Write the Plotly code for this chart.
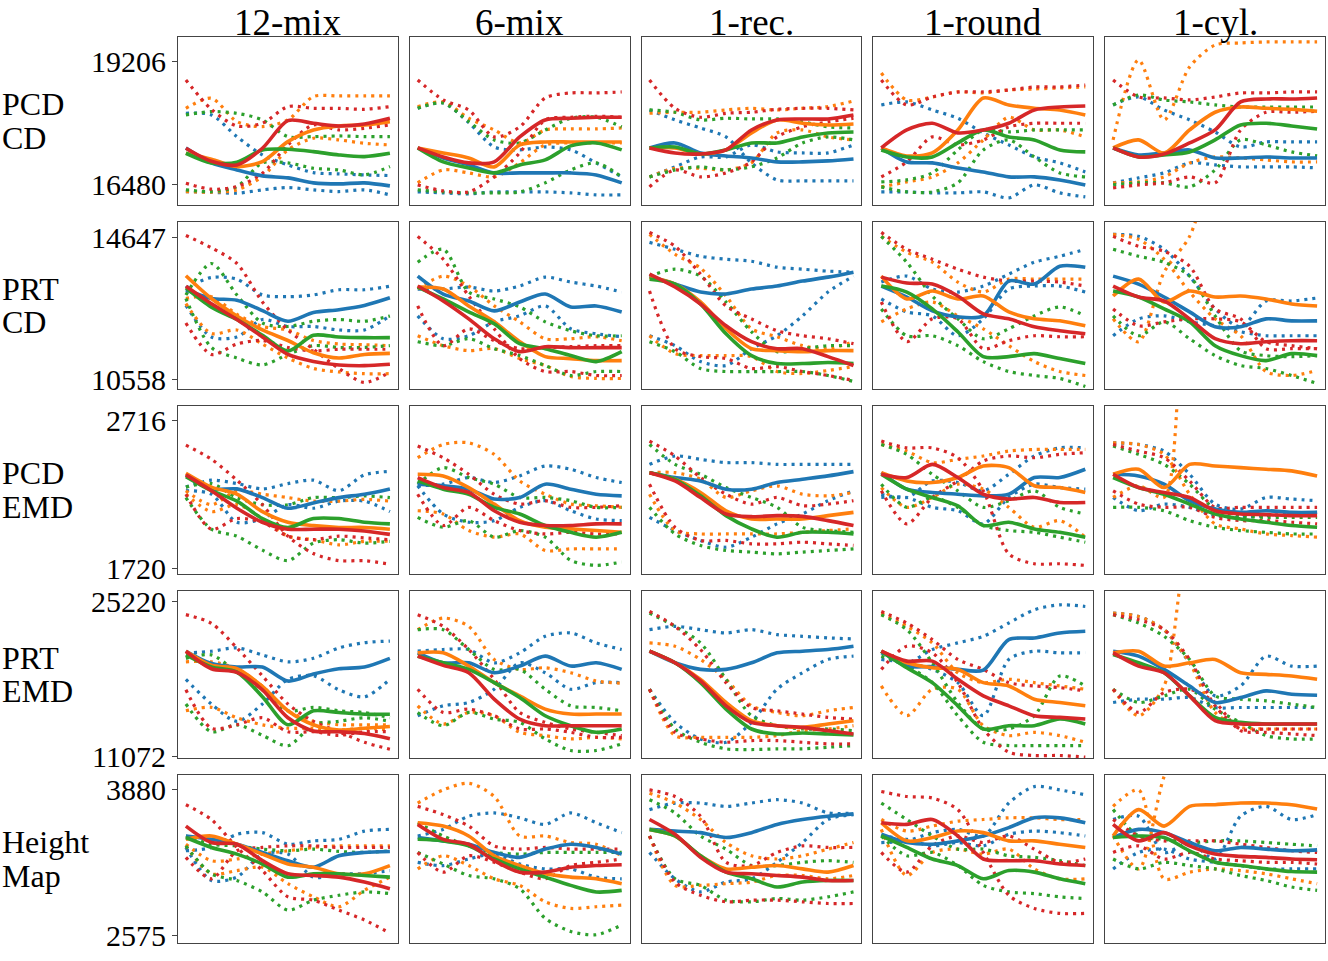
import plotly.graph_objects as go

# ---------------- data ----------------
steps = [0, 1, 2, 3, 4, 5, 6, 7, 8]
datasets = ["12-mix", "6-mix", "1-rec.", "1-round", "1-cyl."]
metrics = [("PCD", "CD"), ("PRT", "CD"), ("PCD", "EMD"), ("PRT", "EMD"), ("Height", "Map")]
y_ticks = [[16480, 19206], [10558, 14647], [1720, 2716], [11072, 25220], [2575, 3880]]
y_limits = [[16037, 19760], [10272, 15104], [1680, 2817], [10891, 26218], [2504, 4013]]
series_colors = ["#1f77b4", "#ff7f0e", "#2ca02c", "#d62728"]  # blue, orange, green, red

# solid lines: [blue, orange, green, red]; dotted: [b1, b2, o1, o2, g1, g2, r1, r2]
r1c1_solid = [
    [17300, 16968, 16813, 16680, 16636, 16525, 16502, 16525, 16458],
    [17182, 17050, 16887, 16997, 17440, 17699, 17788, 17810, 17884],
    [17182, 16968, 16983, 17256, 17271, 17219, 17145, 17108, 17182],
    [17293, 17005, 16924, 17293, 17906, 17847, 17788, 17832, 17958]]
r1c1_dotted = [
    [18069, 18032, 17551, 17145, 16924, 16753, 16724, 16702, 16687],
    [16333, 16318, 16296, 16370, 16421, 16370, 16333, 16370, 16259],
    [18179, 18401, 17884, 17773, 17921, 18438, 18453, 18453, 18453],
    [16333, 16318, 16370, 16665, 17256, 17515, 17478, 17404, 17367],
    [18032, 18105, 18069, 17921, 17551, 17551, 17566, 17551, 17551],
    [16370, 16333, 16443, 16968, 16968, 16850, 16813, 16702, 16887],
    [18807, 18157, 17788, 17847, 18216, 18179, 18179, 18157, 18216],
    [16517, 16385, 16443, 16739, 17367, 17810, 17699, 17736, 17810]]

r1c2_solid = [
    [17300, 17078, 16924, 16746, 16746, 16746, 16746, 16702, 16525],
    [17300, 17189, 17078, 16880, 17367, 17433, 17433, 17433, 17433],
    [17300, 16990, 16857, 16746, 16924, 17034, 17345, 17411, 17256],
    [17300, 17100, 16968, 16990, 17544, 17921, 17958, 17980, 17980]]
r1c2_dotted = [
    [18179, 18297, 17862, 17322, 17256, 17322, 17256, 16968, 16658],
    [16325, 16303, 16281, 16325, 16325, 16325, 16303, 16259, 16259],
    [18216, 18320, 17958, 17699, 17411, 17699, 17721, 17721, 17743],
    [16525, 16813, 16746, 16658, 16968, 17367, 17411, 17411, 17411],
    [18179, 18297, 17884, 17478, 17411, 17699, 17958, 17980, 17766],
    [16370, 16325, 16303, 16303, 16325, 16525, 16813, 16968, 16658],
    [18807, 18364, 18142, 17544, 17766, 18408, 18519, 18519, 18541],
    [16480, 16347, 16325, 16658, 17189, 17921, 17980, 18003, 17980]]

r1c3_solid = [
    [17300, 17411, 17189, 17123, 17078, 16990, 16990, 17012, 17056],
    [17300, 17300, 17167, 17256, 17633, 17921, 17847, 17810, 17832],
    [17300, 17322, 17167, 17256, 17411, 17411, 17544, 17633, 17655],
    [17300, 17189, 17167, 17256, 17699, 17921, 17943, 17943, 18032]]
r1c3_dotted = [
    [18142, 17921, 17743, 17544, 16968, 16591, 16569, 16569, 16569],
    [16658, 16880, 17100, 17100, 17367, 17212, 17189, 17189, 17367],
    [18069, 18091, 18091, 18142, 18179, 18142, 18179, 18216, 18342],
    [16658, 16850, 16850, 16813, 16968, 17633, 17699, 17544, 17478],
    [18142, 18091, 17921, 17958, 17943, 17943, 17877, 17766, 17743],
    [16658, 16813, 16880, 16813, 16880, 17078, 17411, 17544, 17478],
    [18807, 18179, 17980, 18069, 18091, 18157, 18179, 18179, 18142],
    [16436, 16813, 16658, 16746, 16990, 17544, 17766, 17877, 17958]]

r1c4_solid = [
    [17300, 16990, 16968, 16857, 16768, 16658, 16658, 16591, 16480],
    [17300, 17123, 17189, 17699, 18408, 18253, 18179, 18142, 18032],
    [17256, 17100, 17100, 17411, 17699, 17544, 17478, 17256, 17212],
    [17300, 17699, 17847, 17633, 17699, 17847, 18142, 18208, 18230]]
r1c4_dotted = [
    [18253, 18320, 18142, 17958, 17633, 17367, 17100, 16968, 16768],
    [16325, 16325, 16303, 16303, 16325, 16192, 16480, 16303, 16214],
    [18962, 18364, 18430, 18541, 18519, 18586, 18608, 18630, 18652],
    [16436, 16547, 16658, 16968, 17478, 17980, 17699, 17699, 17544],
    [16547, 16591, 16746, 17256, 17699, 17655, 17699, 17699, 17699],
    [16436, 16325, 16325, 16525, 17256, 17478, 17100, 16746, 16658],
    [18807, 18253, 18430, 18541, 18541, 18586, 18652, 18652, 18696],
    [16658, 16990, 17544, 17367, 17478, 17766, 17847, 17847, 17847]]

r1c5_solid = [
    [17300, 17145, 17189, 17256, 17078, 17078, 17100, 17078, 17078],
    [17300, 17478, 17189, 17699, 18091, 18208, 18179, 18157, 18113],
    [17300, 17100, 17145, 17212, 17478, 17810, 17847, 17788, 17721],
    [17300, 17100, 17167, 17411, 17699, 18320, 18386, 18386, 18408]]
r1c5_dotted = [
    [18253, 18430, 18142, 17921, 17655, 17322, 17433, 17433, 17433],
    [16525, 16636, 16746, 16968, 16924, 16880, 16880, 16880, 16857],
    [17478, 19250, 17921, 19096, 19583, 19628, 19650, 19650, 19650],
    [16525, 16547, 16658, 16968, 17100, 17078, 17034, 16990, 16990],
    [18253, 18475, 18364, 18320, 18253, 18208, 18208, 18208, 18208],
    [16480, 16525, 16525, 16436, 16813, 17478, 17367, 17212, 17123],
    [18807, 18430, 18408, 18364, 18430, 18519, 18519, 18541, 18541],
    [16414, 16480, 16525, 16658, 16525, 17699, 18091, 18091, 18113]]

r2c1_solid = [
    [13141, 12889, 12838, 12538, 12234, 12486, 12566, 12689, 12909],
    [13544, 12889, 12386, 11983, 11680, 11328, 11176, 11279, 11308],
    [13193, 12638, 12284, 11831, 11379, 11831, 11782, 11762, 11762],
    [13241, 12738, 12284, 11782, 11279, 11076, 10976, 10956, 10996]]
r2c1_dotted = [
    [13193, 13493, 13444, 12990, 12941, 12990, 13141, 13141, 13241],
    [12689, 11782, 11782, 12284, 12083, 12083, 11983, 11983, 12386],
    [12738, 11882, 11983, 11579, 11176, 10876, 10773, 10724, 10724],
    [12889, 12941, 12435, 12083, 11983, 11680, 11579, 11559, 11531],
    [12990, 13896, 12990, 12183, 12083, 12234, 12284, 12234, 12386],
    [12889, 11479, 11176, 10976, 11279, 11531, 11479, 11479, 11531],
    [14703, 14348, 13896, 12789, 11983, 11428, 10876, 10473, 10773],
    [12183, 11279, 11579, 11680, 11479, 11379, 11428, 11428, 11428]]

r2c2_solid = [
    [13533, 13018, 12818, 12532, 12789, 13018, 12646, 12675, 12503],
    [13218, 13161, 12675, 12217, 11645, 11216, 11159, 11102, 11102],
    [13218, 12875, 12503, 12160, 11588, 11445, 11245, 11073, 11359],
    [13247, 12818, 12303, 11731, 11359, 11502, 11474, 11474, 11474]]
r2c2_dotted = [
    [13161, 13161, 13218, 13104, 13247, 13504, 13361, 13247, 13075],
    [12389, 11731, 11817, 12217, 12389, 12675, 12017, 11874, 11788],
    [13161, 13533, 13247, 12675, 12217, 11731, 11731, 11788, 11674],
    [11817, 11531, 11388, 11445, 11159, 10959, 10644, 10587, 10587],
    [13933, 14305, 13075, 12875, 12646, 12217, 11960, 11817, 11817],
    [11645, 11531, 11731, 11445, 11245, 10959, 10673, 10787, 10787],
    [14677, 14019, 12961, 12017, 11159, 10787, 10787, 10673, 10673],
    [12675, 11531, 12017, 11674, 11445, 11474, 11502, 11531, 11531]]

r2c3_solid = [
    [13533, 13304, 13075, 13018, 13161, 13247, 13390, 13504, 13647],
    [13504, 13304, 12789, 12017, 11445, 11388, 11359, 11388, 11388],
    [13447, 13304, 12732, 11874, 11245, 11016, 11016, 11045, 11016],
    [13590, 13218, 12732, 12103, 11645, 11445, 11445, 11216, 10959]]
r2c3_dotted = [
    [14505, 14305, 14105, 14019, 13962, 13790, 13733, 13676, 13647],
    [11817, 11531, 11073, 10959, 11445, 11817, 12389, 13075, 13533],
    [14734, 14162, 13762, 12961, 12017, 11788, 11531, 11445, 11645],
    [11817, 11302, 11245, 11245, 11216, 10787, 10730, 10816, 10930],
    [13533, 13733, 13533, 12789, 11931, 11359, 11445, 11531, 11531],
    [11645, 11359, 10873, 10787, 10787, 10787, 10787, 10673, 10501],
    [14791, 14391, 13590, 12675, 12303, 11960, 11817, 11731, 11588],
    [13104, 11445, 11216, 11159, 10873, 10930, 10787, 10673, 10530]]

r2c4_solid = [
    [13247, 12932, 12532, 12360, 12389, 13390, 13304, 13819, 13790],
    [13533, 12875, 13104, 12875, 12961, 12503, 12303, 12246, 12103],
    [13247, 13075, 12589, 11931, 11216, 11216, 11302, 11159, 11016],
    [13504, 13333, 13304, 12961, 12446, 12303, 12074, 11960, 11874]]
r2c4_dotted = [
    [13361, 13533, 13161, 13075, 13247, 13590, 13933, 14105, 14305],
    [12875, 12503, 12389, 11817, 12303, 13161, 13247, 13247, 13075],
    [14677, 14219, 13933, 13361, 13075, 13447, 13447, 13447, 13447],
    [12217, 12589, 12789, 12389, 12017, 11531, 11073, 10787, 10673],
    [14677, 13933, 12961, 12303, 11731, 12017, 12389, 12646, 12389],
    [12589, 11817, 11817, 11531, 11073, 10787, 10673, 10587, 10358],
    [14791, 14305, 14019, 13733, 13504, 13390, 13390, 13361, 13247],
    [12789, 11645, 12303, 12303, 11445, 11674, 11817, 11788, 11788]]

r2c5_solid = [
    [13533, 13304, 12932, 12503, 12074, 12074, 12303, 12246, 12246],
    [12961, 13447, 12789, 13104, 12932, 12961, 12875, 12732, 12675],
    [13104, 12932, 12589, 12217, 11531, 11245, 11102, 11302, 11245],
    [13247, 12932, 12818, 12303, 11731, 11588, 11645, 11674, 11674]]
r2c5_dotted = [
    [14734, 14677, 14305, 13533, 12589, 12074, 12818, 12818, 12904],
    [11817, 12303, 12389, 12217, 12103, 11931, 11817, 11817, 11817],
    [12303, 11645, 13647, 14677, 16879, 18309, 18595, 18595, 18595],
    [14734, 14591, 14019, 13075, 12303, 11817, 10787, 10673, 10816],
    [14305, 14105, 13933, 13533, 12389, 11388, 11245, 11216, 11245],
    [12389, 11817, 12217, 11731, 11245, 10959, 10873, 10673, 10444],
    [14677, 14391, 14248, 13819, 12589, 12303, 11445, 11445, 11445],
    [12589, 12103, 12217, 12303, 12303, 12217, 11645, 11531, 11445]]

r3c1_solid = [
    [2351, 2256, 2256, 2197, 2125, 2161, 2197, 2220, 2256],
    [2362, 2268, 2220, 2102, 2030, 2007, 1995, 1995, 1983],
    [2339, 2244, 2173, 2055, 1995, 2055, 2055, 2030, 2019],
    [2351, 2244, 2125, 2030, 1983, 1983, 1983, 1971, 1948]]
r3c1_dotted = [
    [2268, 2315, 2292, 2256, 2292, 2315, 2244, 2351, 2375],
    [2244, 2220, 2030, 2055, 2149, 2125, 2173, 2173, 2102],
    [2244, 2149, 2244, 2220, 2197, 2173, 2173, 2185, 2173],
    [2220, 2102, 2149, 2055, 1936, 1912, 1877, 1901, 1901],
    [2268, 2292, 2197, 2149, 2149, 2197, 2197, 2208, 2197],
    [2197, 1983, 1936, 1841, 1770, 1889, 1912, 1889, 1901],
    [2552, 2457, 2315, 2149, 1936, 1818, 1770, 1770, 1746],
    [2220, 1983, 2055, 2030, 1936, 1912, 1936, 1924, 1912]]

r3c2_solid = [
    [2288, 2277, 2254, 2187, 2198, 2288, 2254, 2220, 2209],
    [2355, 2344, 2265, 2153, 2041, 1996, 1985, 1974, 1962],
    [2310, 2254, 2220, 2131, 2086, 2008, 1962, 1929, 1962],
    [2333, 2265, 2232, 2108, 2030, 2008, 2008, 2019, 2019]]
r3c2_dotted = [
    [2277, 2288, 2333, 2299, 2344, 2411, 2389, 2333, 2299],
    [2277, 2086, 2030, 2041, 2131, 2176, 2108, 2052, 2041],
    [2467, 2557, 2568, 2490, 2310, 2220, 2153, 2142, 2131],
    [2108, 2086, 1974, 1929, 1951, 1839, 1850, 1850, 1850],
    [2288, 2400, 2333, 2288, 2198, 2198, 2176, 2131, 2131],
    [2063, 1996, 2041, 1929, 1974, 1929, 1772, 1738, 1761],
    [2546, 2467, 2355, 2220, 2153, 2176, 2131, 2131, 2142],
    [2220, 2008, 2131, 2041, 1974, 1951, 1962, 1951, 1951]]

r3c3_solid = [
    [2366, 2333, 2310, 2254, 2254, 2299, 2321, 2344, 2373],
    [2366, 2321, 2232, 2108, 2052, 2052, 2052, 2075, 2097],
    [2366, 2321, 2209, 2075, 1985, 1929, 1962, 1962, 1951],
    [2366, 2310, 2198, 2086, 2068, 2075, 2070, 2041, 2008]]
r3c3_dotted = [
    [2422, 2479, 2456, 2434, 2434, 2422, 2422, 2422, 2422],
    [2063, 1974, 1907, 1861, 1929, 2019, 2086, 2176, 2243],
    [2366, 2366, 2321, 2198, 2243, 2277, 2220, 2209, 2232],
    [2220, 1974, 1951, 1951, 1951, 1951, 1962, 1974, 1985],
    [2557, 2422, 2355, 2265, 2198, 2131, 1996, 1974, 1962],
    [2131, 1951, 1873, 1839, 1828, 1816, 1828, 1839, 1850],
    [2580, 2479, 2333, 2220, 2153, 2198, 2142, 2153, 2176],
    [2288, 1996, 1907, 1907, 1884, 1884, 1895, 1884, 1873]]

r3c4_solid = [
    [2366, 2254, 2232, 2220, 2209, 2220, 2333, 2333, 2389],
    [2366, 2310, 2299, 2333, 2411, 2400, 2277, 2265, 2232],
    [2355, 2254, 2198, 2142, 2008, 2030, 1985, 1962, 1929],
    [2355, 2333, 2422, 2333, 2220, 2187, 2198, 2164, 2164]]
r3c4_dotted = [
    [2220, 2198, 2310, 2299, 2243, 2355, 2479, 2534, 2534],
    [2198, 2198, 2131, 2108, 2019, 2198, 2288, 2265, 2254],
    [2557, 2512, 2434, 2456, 2479, 2512, 2523, 2523, 2523],
    [2265, 2131, 2198, 2288, 2254, 2131, 1996, 2041, 1929],
    [2557, 2490, 2355, 2243, 2131, 2176, 2243, 2131, 2086],
    [2288, 2131, 2198, 2131, 2008, 1974, 1962, 1929, 1895],
    [2580, 2534, 2534, 2467, 2243, 1816, 1749, 1749, 1738],
    [2243, 2019, 2198, 2310, 2445, 2479, 2467, 2490, 2501]]

r3c5_solid = [
    [2355, 2344, 2288, 2176, 2119, 2097, 2108, 2097, 2097],
    [2355, 2389, 2265, 2422, 2411, 2400, 2389, 2378, 2344],
    [2333, 2265, 2220, 2153, 2086, 2052, 2030, 2008, 1996],
    [2355, 2265, 2232, 2198, 2108, 2086, 2082, 2075, 2075]]
r3c5_dotted = [
    [2568, 2557, 2512, 2355, 2153, 2119, 2198, 2187, 2176],
    [2198, 2108, 2153, 2131, 2075, 2063, 2075, 2086, 2097],
    [2198, 2277, 2198, 3544, 3656, 3656, 3656, 3656, 3656],
    [2568, 2557, 2490, 2220, 2019, 1985, 1951, 1940, 1929],
    [2546, 2490, 2422, 2288, 2119, 2075, 2063, 2063, 2063],
    [2131, 2131, 2108, 2041, 1996, 1974, 1962, 1951, 1951],
    [2557, 2512, 2467, 2310, 2131, 2131, 2131, 2131, 2131],
    [2243, 2153, 2131, 2131, 2063, 2041, 2041, 2030, 2019]]

r4c1_solid = [
    [20678, 19553, 19236, 19236, 17957, 18601, 19082, 19236, 20034],
    [20678, 19400, 19082, 17477, 15246, 13967, 13486, 13649, 13812],
    [20349, 19247, 18774, 16533, 13967, 15246, 15083, 14929, 14929],
    [20678, 19082, 18755, 17158, 14608, 13394, 13330, 13167, 12688]]
r4c1_dotted = [
    [20524, 20678, 20986, 20349, 19717, 20034, 20986, 21458, 21613],
    [18112, 15861, 14284, 15861, 18112, 18437, 17158, 16514, 18112],
    [19717, 19717, 19082, 17477, 15246, 14284, 13967, 13967, 13967],
    [15246, 15560, 14608, 13967, 13649, 13649, 13486, 13649, 13486],
    [20034, 20349, 18755, 17158, 15246, 15560, 15246, 15083, 14608],
    [15861, 13330, 13967, 13007, 12051, 13967, 14284, 14608, 14284],
    [24025, 23227, 20986, 18428, 15871, 14275, 13330, 12370, 11735],
    [17158, 13649, 13967, 14608, 13330, 13330, 13007, 13330, 13330]]

r4c2_solid = [
    [20534, 19627, 19627, 18720, 19327, 20233, 19327, 19627, 19023],
    [20534, 20534, 19327, 17815, 16605, 15398, 14945, 14945, 14945],
    [20233, 19627, 19023, 17815, 16454, 14791, 13884, 13279, 13581],
    [20233, 19393, 18720, 16303, 14489, 13884, 13884, 13884, 13884]]
r4c2_dotted = [
    [20687, 20838, 20838, 19627, 20534, 22047, 22349, 21443, 20838],
    [14791, 15698, 16001, 17212, 19627, 18720, 17212, 17815, 17815],
    [22651, 23709, 22954, 19931, 19023, 19176, 18720, 17965, 17757],
    [15698, 14036, 15094, 14791, 13280, 12977, 12675, 12826, 12675],
    [22651, 22651, 20838, 19023, 19023, 17212, 15698, 15547, 15245],
    [15094, 13884, 15094, 14489, 14187, 12675, 11617, 11617, 12222],
    [24013, 22954, 20838, 18117, 15094, 14187, 13582, 13280, 12977],
    [17212, 15094, 15398, 14791, 13582, 13582, 13280, 12826, 12826]]

r4c3_solid = [
    [20687, 19627, 19023, 19023, 19627, 20534, 20687, 20838, 21140],
    [20687, 19627, 18117, 16001, 14338, 13884, 13733, 14036, 14338],
    [20687, 19627, 17815, 15398, 13582, 13129, 13220, 13129, 13038],
    [20687, 19627, 17965, 15698, 14187, 13884, 13733, 13431, 13129]]
r4c3_dotted = [
    [22651, 22954, 22651, 22349, 22651, 22198, 22047, 21897, 21806],
    [17212, 14187, 12675, 12373, 14187, 17212, 18720, 19931, 20233],
    [21443, 21140, 19931, 18117, 15698, 15094, 14791, 15245, 15547],
    [17212, 12977, 12826, 12826, 12826, 12977, 13431, 13582, 13884],
    [24163, 22954, 21443, 18117, 14791, 13884, 13582, 13582, 13431],
    [17212, 13582, 12373, 11768, 11707, 11768, 11768, 11919, 12070],
    [24314, 22954, 20838, 17815, 15547, 15245, 14945, 14640, 14489],
    [17212, 13280, 12675, 12373, 12524, 12524, 12373, 12222, 12222]]

r4c4_solid = [
    [20687, 19326, 19266, 19023, 18960, 21744, 21897, 22349, 22501],
    [20687, 19627, 19176, 19023, 17815, 17512, 16303, 16001, 15698],
    [20687, 19176, 17815, 15698, 13582, 13884, 13884, 14489, 14036],
    [20687, 19780, 19780, 18117, 16605, 15698, 14791, 14640, 14489]]
r4c4_dotted = [
    [20534, 19627, 20838, 21443, 22047, 23257, 24465, 24918, 24768],
    [19931, 19627, 19023, 17815, 14791, 19931, 20687, 20534, 20534],
    [24163, 22954, 21443, 18720, 17815, 18117, 17815, 17512, 17212],
    [17512, 14791, 17212, 17212, 13884, 12977, 13280, 12977, 12373],
    [24013, 22651, 19627, 16001, 13582, 13582, 14791, 18419, 17512],
    [20233, 19327, 17815, 14791, 12373, 12070, 12070, 12070, 12070],
    [24314, 23257, 21744, 19931, 19023, 17815, 17512, 17361, 17059],
    [19023, 21140, 20534, 17815, 13582, 11465, 11163, 11163, 11012]]

r4c5_solid = [
    [20687, 20233, 19023, 17512, 16001, 16454, 17059, 16757, 16666],
    [20534, 20687, 19327, 19627, 19931, 18720, 18570, 18419, 18117],
    [20385, 19627, 18720, 16605, 14640, 14187, 14036, 14036, 14036],
    [20534, 19327, 18720, 16605, 14338, 14036, 14036, 14036, 14036]]
r4c5_dotted = [
    [24163, 23861, 22651, 19627, 16605, 17512, 20233, 19327, 19327],
    [16001, 16303, 16303, 16454, 15547, 15547, 15547, 15547, 15547],
    [17212, 14791, 17512, 30210, 31722, 31722, 31722, 31722, 31722],
    [24163, 23861, 22651, 19627, 15094, 13733, 13582, 13582, 13582],
    [24013, 23257, 22047, 19931, 16605, 16303, 16152, 15850, 15547],
    [17212, 16001, 16605, 17212, 15398, 14187, 12977, 12675, 12675],
    [24013, 23559, 22651, 19931, 15698, 13582, 13582, 13582, 13582],
    [17212, 15094, 16908, 17212, 16001, 13431, 13280, 13129, 12977]]

r5c1_solid = [
    [3466, 3436, 3392, 3318, 3244, 3185, 3288, 3318, 3327],
    [3436, 3466, 3392, 3303, 3214, 3185, 3126, 3126, 3200],
    [3452, 3363, 3303, 3214, 3096, 3126, 3126, 3111, 3096],
    [3554, 3407, 3392, 3244, 3126, 3111, 3096, 3052, 2992]]
r5c1_dotted = [
    [3333, 3363, 3481, 3496, 3392, 3422, 3436, 3510, 3525],
    [3363, 3066, 3096, 3303, 3303, 3096, 3126, 3126, 3155],
    [3392, 3244, 3259, 3303, 3333, 3363, 3377, 3377, 3377],
    [3377, 3126, 3155, 3185, 3037, 2919, 2830, 2977, 3096],
    [3466, 3392, 3377, 3348, 3333, 3348, 3327, 3318, 3333],
    [3377, 3126, 3066, 2963, 2800, 2889, 2933, 2963, 2948],
    [3747, 3614, 3363, 3155, 2919, 2889, 2800, 2711, 2593],
    [3274, 3081, 3333, 3363, 3377, 3377, 3363, 3363, 3363]]

r5c2_solid = [
    [3452, 3422, 3392, 3318, 3274, 3348, 3392, 3363, 3303],
    [3585, 3555, 3466, 3288, 3200, 3126, 3096, 3081, 3037],
    [3436, 3422, 3377, 3259, 3170, 3096, 3022, 2963, 2977],
    [3570, 3436, 3392, 3244, 3141, 3141, 3185, 3200, 3208]]
r5c2_dotted = [
    [3466, 3525, 3644, 3673, 3629, 3570, 3673, 3585, 3496],
    [3229, 3200, 3259, 3303, 3214, 3170, 3170, 3096, 3081],
    [3762, 3880, 3940, 3821, 3466, 3466, 3407, 3392, 3288],
    [3170, 3288, 3200, 3081, 3022, 2874, 2815, 2830, 2845],
    [3585, 3466, 3377, 3318, 3303, 3318, 3318, 3318, 3318],
    [3318, 3214, 3111, 3081, 2992, 2726, 2608, 2578, 2667],
    [3732, 3658, 3555, 3377, 3348, 3363, 3348, 3348, 3348],
    [3318, 3141, 3288, 3229, 3141, 3081, 3200, 3229, 3259]]

r5c3_solid = [
    [3525, 3510, 3496, 3452, 3496, 3570, 3614, 3644, 3665],
    [3525, 3466, 3288, 3170, 3185, 3200, 3170, 3141, 3200],
    [3525, 3466, 3288, 3141, 3081, 3007, 3052, 3066, 3066],
    [3614, 3481, 3274, 3141, 3126, 3111, 3096, 3066, 3066]]
r5c3_dotted = [
    [3703, 3762, 3762, 3732, 3762, 3792, 3762, 3673, 3673],
    [3318, 3081, 2963, 3052, 3081, 3229, 3407, 3614, 3658],
    [3851, 3762, 3614, 3407, 3288, 3259, 3288, 3348, 3407],
    [3466, 3022, 3022, 3037, 3052, 3111, 3111, 3081, 3111],
    [3792, 3673, 3466, 3348, 3200, 3200, 3229, 3244, 3229],
    [3466, 3081, 3022, 2889, 2874, 2904, 2889, 2919, 2963],
    [3880, 3821, 3644, 3229, 3200, 3318, 3377, 3363, 3363],
    [3466, 3052, 2933, 2874, 2889, 2889, 2874, 2859, 2859]]

r5c4_solid = [
    [3481, 3407, 3392, 3422, 3466, 3541, 3629, 3629, 3585],
    [3585, 3422, 3452, 3510, 3496, 3422, 3422, 3392, 3363],
    [3466, 3363, 3259, 3200, 3081, 3155, 3141, 3081, 3037],
    [3585, 3570, 3614, 3466, 3259, 3244, 3244, 3214, 3200]]
r5c4_dotted = [
    [3407, 3422, 3496, 3525, 3466, 3762, 3910, 3880, 3836],
    [3466, 3436, 3377, 3407, 3377, 3481, 3510, 3496, 3466],
    [3614, 3510, 3555, 3599, 3614, 3629, 3629, 3614, 3614],
    [3525, 3111, 3318, 3348, 3303, 3348, 3170, 3081, 3081],
    [3762, 3614, 3466, 3348, 3348, 3288, 3274, 3244, 3200],
    [3466, 3288, 3318, 3200, 3022, 2963, 2948, 2919, 2904],
    [3866, 3821, 3807, 3703, 3318, 2933, 2815, 2770, 2770],
    [3318, 3141, 3377, 3466, 3407, 3466, 3348, 3229, 3259]]

r5c5_solid = [
    [3452, 3525, 3496, 3407, 3333, 3363, 3348, 3333, 3341],
    [3466, 3703, 3555, 3732, 3747, 3762, 3762, 3747, 3709],
    [3452, 3466, 3452, 3333, 3229, 3200, 3170, 3146, 3141],
    [3570, 3422, 3496, 3377, 3303, 3283, 3274, 3259, 3253]]
r5c5_dotted = [
    [3614, 3644, 3318, 3407, 3259, 3644, 3732, 3614, 3658],
    [3170, 3318, 3348, 3259, 3229, 3200, 3170, 3170, 3170],
    [3732, 3880, 3081, 3141, 3170, 3155, 3126, 3081, 3037],
    [3466, 3170, 4000, 4502, 4502, 4502, 4502, 4502, 4502],
    [3703, 3466, 3436, 3407, 3422, 3422, 3407, 3392, 3377],
    [3259, 3170, 3229, 3200, 3170, 3111, 3066, 3007, 2977],
    [3614, 3466, 3422, 3422, 3422, 3392, 3363, 3333, 3318],
    [3318, 3377, 3259, 3318, 3259, 3244, 3229, 3229, 3214]]

solid_grid = [
    [r1c1_solid, r1c2_solid, r1c3_solid, r1c4_solid, r1c5_solid],
    [r2c1_solid, r2c2_solid, r2c3_solid, r2c4_solid, r2c5_solid],
    [r3c1_solid, r3c2_solid, r3c3_solid, r3c4_solid, r3c5_solid],
    [r4c1_solid, r4c2_solid, r4c3_solid, r4c4_solid, r4c5_solid],
    [r5c1_solid, r5c2_solid, r5c3_solid, r5c4_solid, r5c5_solid]]
dotted_grid = [
    [r1c1_dotted, r1c2_dotted, r1c3_dotted, r1c4_dotted, r1c5_dotted],
    [r2c1_dotted, r2c2_dotted, r2c3_dotted, r2c4_dotted, r2c5_dotted],
    [r3c1_dotted, r3c2_dotted, r3c3_dotted, r3c4_dotted, r3c5_dotted],
    [r4c1_dotted, r4c2_dotted, r4c3_dotted, r4c4_dotted, r4c5_dotted],
    [r5c1_dotted, r5c2_dotted, r5c3_dotted, r5c4_dotted, r5c5_dotted]]

# ---------------- layout geometry (pixels) ----------------
W, H = 1328, 961
ML, MR, MT, MB = 178, 2, 37, 11
PW = W - ML - MR
PH = H - MT - MB
COL_STEP, COL_W = 232, 220
ROW_STEP, ROW_H = 185.75, 169
FONT = "Liberation Serif"

fig = go.Figure()
layout = {}
annotations = []

for i in range(5):
    top = i * ROW_STEP
    bot = top + ROW_H
    ydom = [max(0.0, (PH - bot) / PH), min(1.0, (PH - top) / PH)]
    for j in range(5):
        k = i * 5 + j + 1
        xdom = [j * COL_STEP / PW, min(1.0, (j * COL_STEP + COL_W) / PW)]
        xa = "x" if k == 1 else f"x{k}"
        ya = "y" if k == 1 else f"y{k}"
        # dotted lines first
        for n, vals in enumerate(dotted_grid[i][j]):
            fig.add_trace(go.Scatter(
                x=steps, y=vals, mode="lines", xaxis=xa, yaxis=ya,
                line=dict(color=series_colors[n // 2], width=3.2, dash="3px,5px",
                          shape="spline", smoothing=0.8),
                hoverinfo="skip", showlegend=False))
        for n, vals in enumerate(solid_grid[i][j]):
            fig.add_trace(go.Scatter(
                x=steps, y=vals, mode="lines", xaxis=xa, yaxis=ya,
                line=dict(color=series_colors[n], width=3.6,
                          shape="spline", smoothing=0.8),
                hoverinfo="skip", showlegend=False))
        axis_common = dict(showline=True, mirror=True, linecolor="#444444", linewidth=1,
                           showgrid=False, zeroline=False)
        layout["xaxis" if k == 1 else f"xaxis{k}"] = dict(
            domain=xdom, range=[-0.31, 8.31], showticklabels=False, ticks="",
            anchor=ya, **axis_common)
        layout["yaxis" if k == 1 else f"yaxis{k}"] = dict(
            domain=ydom, range=y_limits[i], tickvals=y_ticks[i],
            ticktext=[str(v) for v in y_ticks[i]],
            showticklabels=(j == 0), ticks="outside" if j == 0 else "",
            ticklen=5, tickcolor="#444444", anchor=xa,
            tickfont=dict(family=FONT, size=30, color="black"), **axis_common)

    # row labels (two lines)
    center_px = top + ROW_H / 2
    for line_idx, txt in enumerate(metrics[i]):
        py = center_px + (-17 if line_idx == 0 else 17)
        annotations.append(dict(
            text=txt, xref="paper", yref="paper", x=-ML / PW, y=(PH - py) / PH,
            xanchor="left", yanchor="middle", showarrow=False,
            font=dict(family=FONT, size=32, color="black")))

# column titles
for j, name in enumerate(datasets):
    annotations.append(dict(
        text=name, xref="paper", yref="paper",
        x=(j * COL_STEP + COL_W / 2) / PW, y=(PH + MT - 1) / PH,
        xanchor="center", yanchor="top", showarrow=False, borderpad=0,
        font=dict(family=FONT, size=37, color="black")))

fig.update_layout(
    width=W, height=H,
    margin=dict(l=ML, r=MR, t=MT, b=MB, pad=0),
    paper_bgcolor="white", plot_bgcolor="white",
    showlegend=False, annotations=annotations, **layout)

fig.write_html(
    "out.html",
    config={"displayModeBar": False},
    post_script="document.body.style.margin='0px';document.body.style.padding='0px';")
